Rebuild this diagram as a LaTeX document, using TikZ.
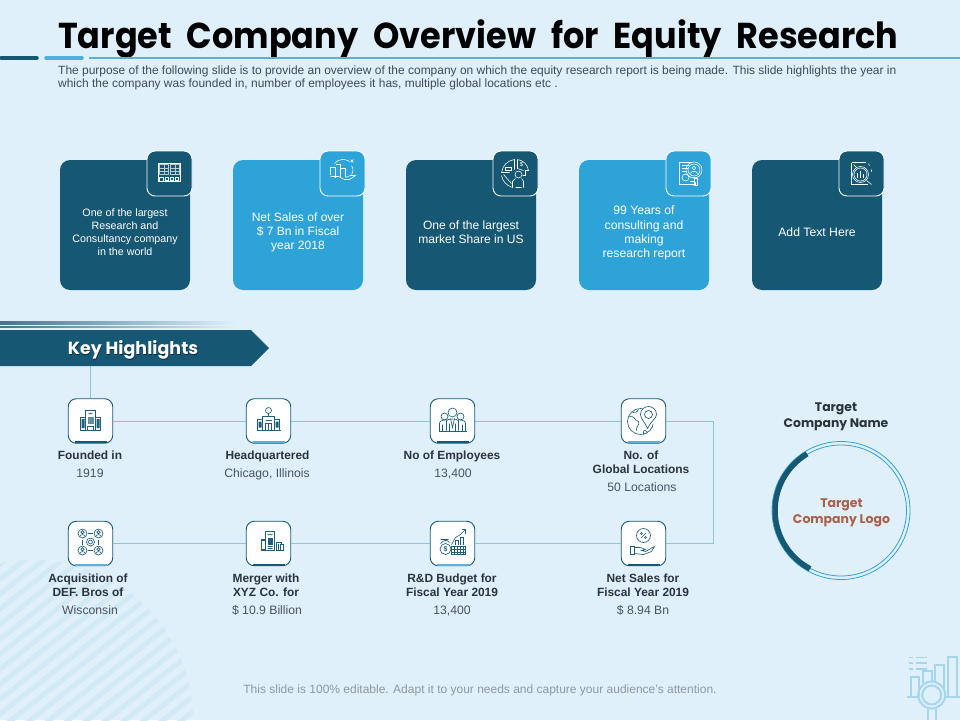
\documentclass[tikz,border=0pt]{standalone}
\usepackage{fontspec}
\usepackage{graphicx}
\setmainfont{Liberation Sans}
\newfontfamily\gothic{Poppins}
\usetikzlibrary{calc}
\definecolor{bgc}{HTML}{DFF0FA}
\definecolor{darkc}{HTML}{165873}
\definecolor{lightc}{HTML}{2EA3D8}
\definecolor{rulec}{HTML}{5BB0D3}
\definecolor{linec}{HTML}{86C8E2}
\definecolor{stripec}{HTML}{D3E9F5}
\definecolor{decoc}{HTML}{A6D6EC}
\definecolor{inkc}{HTML}{2B333B}
\definecolor{valc}{HTML}{4A545C}
\definecolor{descc}{HTML}{3F4B57}
\definecolor{footc}{HTML}{8E999F}
\definecolor{logoc}{HTML}{A9604A}
\definecolor{glyphc}{HTML}{1F5F7C}
\newcommand{\fs}[1]{\fontsize{#1}{#1}\selectfont}
\tikzset{
 x=1pt,y=-1pt,
 card/.style={rectangle,rounded corners=10pt,minimum width=130pt,minimum height=130pt,inner sep=0pt,fill=#1},
 cardicon/.style={rectangle,rounded corners=8pt,minimum width=45pt,minimum height=45pt,inner sep=0pt,fill=#1,draw=white,line width=0.9pt},
 cardtext/.style={align=center,text=white,inner sep=0pt},
 hbox/.style={rectangle,rounded corners=8pt,minimum width=44.5pt,minimum height=44.5pt,inner sep=0pt,fill=white,draw=darkc,line width=0.9pt},
 conn/.style={draw=linec,line width=1pt},
 oneline/.style={text height=8.2pt,text depth=0pt},
 lbl/.style={align=center,text=inkc,inner sep=0pt,font=\fs{11.9}\bfseries},
 lbltwo/.style={align=center,text=inkc,inner sep=0pt,font=\fontsize{11.9}{14}\selectfont\bfseries},
 val/.style={align=center,text=valc,inner sep=0pt,font=\fs{12.2}},
 gw/.style={draw=white,line width=0.55pt,fill=none},
 gwt/.style={draw=white!70!darkc,line width=0.3pt,fill=none},
 gd/.style={draw=glyphc,line width=0.65pt,fill=none},
 deco/.style={draw=decoc,line width=2pt,fill=none},
}
\begin{document}
\begin{tikzpicture}
\useasboundingbox (0,0) rectangle (960,720);
\fill[bgc] (0,0) rectangle (960,720);
% striped circle
\begin{scope}
\clip (33,720) circle[radius=160pt];
\foreach \i in {0,...,32}{
  \draw[stripec,line width=5pt] (-20,{520+\i*15}) -- (220,{520+\i*15-190});
}
\end{scope}
% title
\node[anchor=base west,inner sep=0pt,font=\gothic\fs{36}\bfseries,text=black] (title) at (58,48) {\scalebox{0.93}[1]{\spaceskip=16.1pt\relax Target Company Overview for Equity Research}};
\draw[darkc,line width=3.5pt,line cap=round] (1,58) -- (37,58);
\draw[lightc!85!white,line width=3.5pt,line cap=round] (46,58) -- (82,58);
\draw[rulec,line width=2.4pt] (89,58) -- (960,58);
\node[anchor=base west,inner sep=0pt,font=\fs{11.97},text=descc] (d1) at (58,74) {The purpose of the following slide is to provide an overview of the company on which the equity research report is being made. This slide highlights the year in};
\node[anchor=base west,inner sep=0pt,font=\fs{11.97},text=descc] (d2) at (58,87) {which the company was founded in, number of employees it has, multiple global locations etc .};
% cards
\node[card=darkc] (c1) at (125,225) {};
\node[card=lightc] (c2) at (298,225) {};
\node[card=darkc] (c3) at (471,225) {};
\node[card=lightc] (c4) at (644,225) {};
\node[card=darkc] (c5) at (817,225) {};
\node[cardicon=darkc] (ci1) at (169.5,173.5) {};
\node[cardicon=lightc] (ci2) at (342.5,173.5) {};
\node[cardicon=darkc] (ci3) at (515.5,173.5) {};
\node[cardicon=lightc] (ci4) at (688.5,173.5) {};
\node[cardicon=darkc] (ci5) at (861.5,173.5) {};
\node[cardtext,font=\fontsize{10.7}{13}\selectfont] (t1) at (125,232) {One of the largest\\Research and\\Consultancy company\\in the world};
\node[cardtext,font=\fontsize{12.05}{14}\selectfont] (t2) at (298,232) {Net Sales of over\\\$ 7 Bn in Fiscal\\year 2018};
\node[cardtext,font=\fontsize{12.05}{14}\selectfont] (t3) at (471,232) {One of the largest\\market Share in US};
\node[cardtext,font=\fontsize{12.2}{14.3}\selectfont] (t4) at (644,233) {99 Years of\\consulting and\\making\\research report};
\node[cardtext,font=\fontsize{12.2}{14}\selectfont] (t5) at (817,232) {Add Text Here};
% card glyphs
\begin{scope}[shift={(169.5,173.5)}]
 \draw[gw] (-11,-10) rectangle (10.5,8);
 \draw[gwt] (-10,-9) rectangle (-1,1) (1,-9) rectangle (9.5,1);
 \draw[gwt] (-10,-5.5) -- (-1,-5.5) (-10,-2) -- (-1,-2) (-5.5,-9) -- (-5.5,1);
 \draw[gwt] (1,-5.5) -- (9.5,-5.5) (1,-2) -- (9.5,-2) (5.2,-9) -- (5.2,1);
 \draw[gw] (-10,4) rectangle (-6,8) (-4,3.5) rectangle (-1,6.5) (1,3.5) rectangle (4,6.5) (6,3.5) rectangle (9,6.5);
\end{scope}
\begin{scope}[shift={(342.5,171.5)}]
 \draw[gw] (-12,3) -- (-12,-4) -- (-7,-4) -- (-7,6) (-7,-7) -- (-2,-7) -- (-2,6) (-2,-3) -- (3,-3) -- (3,5);
 \draw[gw] (-12,5) -- (-4,5) -- (2,8) -- (7,8) -- (13,4) -- (8,4) -- (3,6);
 \draw[gw] (-8,-8) .. controls (-4,-13) and (3,-13) .. (7,-10) (9,-6) .. controls (11,-3) and (11,0) .. (9,3);
 \draw[gw] (8,-12) -- (11,-9) (11,-12) -- (8,-9);
\end{scope}
\begin{scope}[shift={(515.5,173.5)}]
 \draw[gw] (-1,-4) -- (-1,-14) .. controls (-8,-13) and (-13,-8) .. (-14,-1) -- (-6,-1);
 \draw[gw] (2,-14) .. controls (8,-13) and (12,-9) .. (13,-3) -- (10,-3) -- (10,2) -- (7,2);
 \draw[gw] (2,-14) -- (2,-5) -- (8,-3);
 \draw[gw] (-14,2) .. controls (-13,8) and (-9,12) .. (-3,14);
 \draw[gw] (-10,-6) rectangle (-4,-3);
 \draw[gw] (-12,1) -- (-4,10);
 \draw[gw] (3,1) circle[radius=3.5pt];
 \draw[gw] (-3,14) -- (-3,8) -- (0,5) (8,14) -- (8,8) -- (6,5) (0,14) -- (6,14);
 \node[inner sep=0pt,text=white,font=\fs{6}] (dollar) at (6,-9) {\$};
\end{scope}
\begin{scope}[shift={(688.5,173.5)}]
 \draw[gw] (3,-11) -- (-9,-11) -- (-9,11) -- (7,11) -- (7,8);
 \draw[gw] (-7,-8) -- (0,-8) (-7,-5) -- (-1,-5) (-7,-2) -- (-2,-2);
 \draw[gw] (-3,4) circle[radius=3.5pt];
 \draw[gw] (2,4) -- (6,4) (1,8) -- (5,8);
 \draw[gw] (5.5,-3.5) circle[radius=8pt] (5.5,-3.5) circle[radius=6pt];
 \draw[gw] (5.5,-5.5) circle[radius=1.8pt] (2,0) .. controls (3,-3) and (8,-3) .. (9,0);
 \draw[gw] (6,5) rectangle (9,12);
\end{scope}
\begin{scope}[shift={(861.5,173.5)}]
 \draw[gw] (-10,-11) -- (4,-11) (-10,-11) -- (-10,11) -- (6,11);
 \draw[gw] (-1,1) circle[radius=8pt] (-1,1) circle[radius=6.5pt];
 \draw[gw] (-4,4) -- (-4,-1) (-1,4) -- (-1,-3) (2,4) -- (2,0);
 \draw[gw] (5,7) -- (10,11);
 \draw[gw] (7,-10) -- (8,-8) (10,-4) -- (10,-2) (-8,-9) -- (-5,-6);
\end{scope}
% key highlights banner
\foreach \yy in {321.8,324.2,326.7}{
 \shade[left color=darkc!80!bgc,right color=bgc] (0,\yy-0.35) rectangle (235,\yy+0.35);
}
\fill[darkc] (0,330) -- (251,330) -- (269,348) -- (251,366) -- (0,366) -- cycle;
\node[inner sep=0pt,text=black!55!darkc,font=\gothic\fs{17.5}\bfseries] (khs) at (133.6,350.4) {Key Highlights};
\node[inner sep=0pt,text=white,font=\gothic\fs{17.5}\bfseries] (kh) at (133,349.6) {Key Highlights};
\coordinate (khb) at (90.5,366);
% highlight boxes
\node[hbox] (f) at (90.5,421) {};
\node[hbox] (h) at (268.5,421) {};
\node[hbox] (e) at (452.5,421) {};
\node[hbox] (g) at (643.5,421) {};
\node[hbox] (a) at (90.5,543.5) {};
\node[hbox] (m) at (268.5,543.5) {};
\node[hbox] (r) at (452.5,543.5) {};
\node[hbox] (n) at (643.5,543.5) {};
\coordinate (bend) at (713,421);
\draw[conn] (khb) -- (f.north);
\draw[conn] (f.east) -- (h.west);
\draw[conn] (h.east) -- (e.west);
\draw[conn] (e.east) -- (g.west);
\draw[conn] (g.east) -- (bend) |- (n.east);
\draw[conn] (n.west) -- (r.east);
\draw[conn] (r.west) -- (m.east);
\draw[conn] (m.west) -- (a.east);
% bottom bars
\foreach \cc/\bx/\by in {darkc/90.5/421,rulec/268.5/421,darkc/452.5/421,rulec/643.5/421,rulec/90.5/543.5,darkc/268.5/543.5,rulec/452.5/543.5,darkc/643.5/543.5}{
 \draw[\cc,line width=2pt] (\bx-16,\by+21.2) -- (\bx+16,\by+21.2);
}
% highlight glyphs
\begin{scope}[shift={(90.5,420)}]
 \draw[gd] (-5,-10) rectangle (5,10);
 \draw[gd] (-10,-3) rectangle (-5,10) (5,-3) rectangle (10,10);
 \fill[glyphc] (-9,-1) rectangle (-6,8) (6,-1) rectangle (9,8);
 \fill[glyphc!70!white] (-3,-3) rectangle (3,4);
 \draw[gd] (-2,-7) -- (-1,-6) -- (0,-7) -- (1,-6) -- (2,-7);
 \draw[gd] (-3,10) -- (-3,6) -- (3,6) -- (3,10);
\end{scope}
\begin{scope}[shift={(268.5,420.5)}]
 \draw[gd] (0,-10) circle[radius=3pt];
 \draw[gd] (0,-7) -- (0,-4);
 \draw[gd] (-6,9) -- (-6,-4) -- (6,-4) -- (6,9);
 \draw[gd] (-11,9) -- (-11,-1) -- (-6,-1) (6,-1) -- (11,-1) -- (11,9);
 \draw[gd,line width=1pt] (-12,9.5) -- (12,9.5);
 \draw[gd] (-3,9) -- (-3,3) -- (3,3) -- (3,9) (0,3) -- (0,9) (-3,0) -- (3,0);
 \fill[glyphc] (-10,1) rectangle (-7,7) (7,1) rectangle (10,7);
\end{scope}
\begin{scope}[shift={(452.5,420.5)}]
 \draw[gd] (0,-8) circle[radius=4.5pt];
 \draw[gd] (-8,-4) circle[radius=3.5pt] (8,-4) circle[radius=3.5pt];
 \draw[gd] (-13,11) -- (-13,3) .. controls (-13,0) and (-10,0) .. (-6,-1) (13,11) -- (13,3) .. controls (13,0) and (10,0) .. (6,-1);
 \draw[gd] (-6,10) -- (-6,0) .. controls (-4,-2) and (4,-2) .. (6,0) -- (6,10);
 \draw[gd] (-14,11) -- (14,11);
 \draw[gd] (-2,-2) -- (0,7) -- (2,-2) (-10,4) -- (-10,11) (10,4) -- (10,11) (-3,3) -- (-3,11) (3,3) -- (3,11);
\end{scope}
\begin{scope}[shift={(643.5,420.5)}]
 \draw[gd] (-3,1) circle[radius=13pt];
 \fill[white] (6,-12) rectangle (13,3);
 \draw[gd,fill=white] (4,8) .. controls (1,1) and (-3,-2) .. (-3,-6) .. controls (-3,-11) and (1,-14) .. (5,-14) .. controls (9,-14) and (13,-11) .. (13,-6) .. controls (13,-2) and (7,1) .. (4,8) -- cycle;
 \draw[gd] (5,-6) circle[radius=4pt];
 \draw[gd] (-14,-4) .. controls (-9,-5) and (-9,0) .. (-5,1) .. controls (-3,4) and (-8,6) .. (-7,10);
 \draw[gd] (-5,-11) .. controls (-6,-8) and (-10,-8) .. (-11,-8);
 \draw[gd] (4,12) .. controls (2,9) and (-1,9) .. (0,14);
\end{scope}
\begin{scope}[shift={(90.5,542.5)}]
 \foreach \px/\py in {-8/-9,8/-9,-8/8,8/8}{
  \draw[gd] (\px,\py) circle[radius=4.5pt];
  \draw[gd] (\px,\py-1.3) circle[radius=1.6pt];
  \draw[gd] (\px-2.8,\py+3) .. controls (\px-2,\py+0.5) and (\px+2,\py+0.5) .. (\px+2.8,\py+3);
 }
 \draw[gd] (-2.5,-9) -- (2.5,-9) (-2.5,8) -- (2.5,8) (-8,-3) -- (-8,2) (8,-3) -- (8,2);
 \draw[gd] (0,-0.5) circle[radius=4pt] (0,-0.5) circle[radius=2pt];
\end{scope}
\begin{scope}[shift={(268.5,542.5)}]
 \draw[gd] (-3,-11) rectangle (6,8);
 \fill[glyphc] (-8,-4) rectangle (-3,8);
 \fill[white] (-7,-2) rectangle (-4,6);
 \fill[glyphc] (-1,-5) rectangle (4,2);
 \draw[gd] (-1,-8.5) -- (0,-7.5) -- (1.5,-8.5) -- (3,-7.5) -- (4,-8.5) (-1,4) -- (4,4) (-1,6) -- (4,6);
 \draw[gd] (8,8) -- (8,0) -- (13,0) -- (13,2) -- (15,2) -- (15,8) -- cycle;
 \draw[gd] (9.5,1) -- (9.5,7) (11.5,1) -- (11.5,7);
\end{scope}
\begin{scope}[shift={(452.5,542.5)}]
 \draw[gd] (-1,2) -- (3,-5) -- (8,-8) -- (13,-13);
 \draw[gd] (9,-13) -- (13,-13) -- (13,-9);
 \draw[gd] (3,2) -- (3,-2) -- (6,-2) -- (6,2) (8,2) -- (8,-5) -- (11,-5) -- (11,2);
 \draw[gd] (-7,6.5) circle[radius=5.5pt];
 \node[inner sep=0pt,text=glyphc,font=\fs{7}\bfseries] (dollarb) at (-7,6.5) {\$};
 \draw[gd] (-12,1) .. controls (-8,-3) and (-6,-3) .. (-3,0) (-12,-3) -- (-4,-3);
 \draw[gd] (-1,4) rectangle (13,12);
 \draw[gd] (-1,7) -- (13,7) (-1,9.5) -- (13,9.5) (2,4) -- (2,12) (5,4) -- (5,12) (8,4) -- (8,12) (11,4) -- (11,12);
\end{scope}
\begin{scope}[shift={(643.5,542.5)}]
 \draw[gd] (0,-7) circle[radius=7pt];
 \draw[gd] (-2.5,-4.5) -- (2.5,-9.5);
 \draw[gd] (-2,-9) circle[radius=1pt] (2,-5) circle[radius=1pt];
 \draw[gd] (-13,4) rectangle (-9,12);
 \draw[gd] (-9,5) -- (-3,5) -- (2,7) -- (-2,8) -- (2,9) -- (11,4) -- (8,9) -- (0,12) -- (-9,11);
\end{scope}
% labels
\node[lbl,oneline] (lf) at (90,455) {Founded in};
\node[val,oneline] (vf) at (90,473) {1919};
\node[lbl,oneline] (lh) at (267.5,455) {Headquartered};
\node[val,oneline] (vh) at (267,473) {Chicago, Illinois};
\node[lbl,oneline] (le) at (452,455) {No of Employees};
\node[val,oneline] (ve) at (453,473) {13,400};
\node[lbltwo] (lg) at (641,462.5) {No. of\\Global Locations};
\node[val,oneline] (vg) at (642,487.5) {50 Locations};
\node[lbltwo] (la) at (88,585.5) {Acquisition of\\DEF. Bros of};
\node[val,oneline] (va) at (90,610.5) {Wisconsin};
\node[lbltwo] (lm) at (266,585.5) {Merger with\\XYZ Co. for};
\node[val,oneline] (vm) at (267,610.5) {\$ 10.9 Billion};
\node[lbltwo] (lr) at (452,585.5) {R\&D Budget for\\Fiscal Year 2019};
\node[val,oneline] (vr) at (452,610.5) {13,400};
\node[lbltwo] (ln) at (643,585.5) {Net Sales for\\Fiscal Year 2019};
\node[val,oneline] (vn) at (643,610.5) {\$ 8.94 Bn};
% logo ring
\node[align=center,inner sep=0pt,text=inkc,font=\gothic\fontsize{12.4}{16}\selectfont\bfseries] (tn) at (836,417) {Target\\Company Name};
\node[circle,draw=lightc,line width=0.8pt,minimum size=138pt,inner sep=0pt] (logo) at (841,510.5) {};
\node[align=center,inner sep=0pt,text=logoc,font=\gothic\fontsize{12.5}{16}\selectfont\bfseries] (logot) at (841.5,512.5) {Target\\Company Logo};
\draw[lightc,line width=0.8pt] (841,510.5) circle[radius=65.5pt];
\draw[darkc,line width=5.5pt] plot[domain=121:242,samples=60,smooth] ({841+66*cos(\x)},{510.5-66*sin(\x)});
% footer
\node[inner sep=0pt,text=footc,font=\fs{12}] (foot) at (480,690) {This slide is 100\% editable. Adapt it to your needs and capture your audience's attention.};
% deco
\draw[deco,line width=1.8pt] (909,657.5) -- (913,657.5) (916,657.5) -- (927,657.5) (909,663) -- (913,663) (916,663) -- (927,663) (909,669) -- (913,669) (916,669) -- (927,669);
\draw[deco] (910.5,697) -- (910.5,676.5) -- (919,676.5) -- (919,697);
\draw[deco] (923,683) -- (923,671) -- (932,671) -- (932,682);
\draw[deco] (935,682) -- (935,664.5) -- (944,664.5) -- (944,690);
\draw[deco] (948,697) -- (948,657) -- (957,657) -- (957,697);
\draw[deco] (907,697) -- (918,697) (946,697) -- (960,697);
\draw[deco] (931.7,695) circle[radius=13.5pt] (931.7,695) circle[radius=9.5pt];
\draw[deco] (927.5,709) -- (927.5,720) (936,709) -- (936,720);
\end{tikzpicture}
\end{document}
